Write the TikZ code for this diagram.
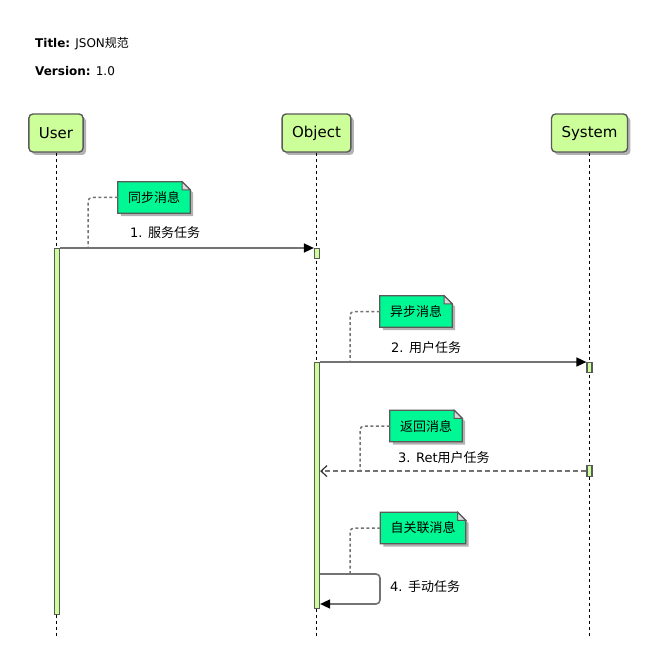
\documentclass[tikz,border=0pt]{standalone}
\usepackage{fontspec}
\setmainfont{DejaVu Sans}
\newfontfamily\cjk{Noto Sans CJK SC}
\usepackage{xcolor}
\usepackage{tikz}
\usetikzlibrary{arrows.meta}
\usetikzlibrary{backgrounds}
\usetikzlibrary{calc}
\usetikzlibrary{shadows}
\definecolor{partgreen}{HTML}{CCFF99}
\definecolor{notegreen}{HTML}{00F894}
\definecolor{edgegray}{HTML}{5A5A5A}
\definecolor{msggray}{HTML}{737373}

\begin{document}
\begin{tikzpicture}[x=1pt,y=-1pt]%%sequence
        \tikzstyle{participant} = [rectangle, rounded corners=4pt, draw=edgegray, line width=1.4pt, fill=partgreen, minimum height=38pt, inner xsep=10pt, font=\fontsize{15}{18}\selectfont, drop shadow={shadow xshift=3pt, shadow yshift=-3pt, fill=black!30, opacity=1}]
        \tikzstyle{lifeline} = [dash pattern=on 3.5pt off 2.5pt, line width=1pt]
        \tikzstyle{actbar} = [rectangle, draw=edgegray, fill=partgreen, line width=1.2pt, minimum width=5pt, inner sep=0pt, anchor=north]
        \tikzstyle{notebox} = [rectangle, minimum height=31pt, inner xsep=10pt, font=\fontsize{13}{15}\selectfont\cjk]
        \tikzstyle{msg} = [draw=msggray, line width=1.6pt, -{Triangle[length=10pt,width=9pt,color=black]}]
        \tikzstyle{retmsg} = [draw=msggray, line width=1.6pt, dash pattern=on 5pt off 3pt, -{Straight Barb[length=6pt,width=11pt,color=black!80,line width=1.2pt]}]
        \tikzstyle{noteline} = [draw=msggray, line width=1.5pt, dash pattern=on 3pt off 2.5pt, rounded corners=4pt]
        \tikzstyle{msglabel} = [anchor=west, inner sep=0pt, font=\fontsize{13}{15}\selectfont]
        \useasboundingbox (0,0) rectangle (660,668);

        \node [anchor=west, inner sep=0pt, font=\fontsize{12}{14}\selectfont](title) at (35,44) {\textbf{Title:} JSON{\cjk 规范}};
        \node [anchor=west, inner sep=0pt, font=\fontsize{12}{14}\selectfont](version) at (35,71) {\textbf{Version:} 1.0};

        \node [participant](user) at (56,133) {User};
        \node [participant](object) at (316.5,133) {Object};
        \node [participant](system) at (589.5,133) {System};
        \foreach \p in {user,object,system}
        {
                \draw [lifeline] (\p.south) -- ++(0,483);
        }

        \node [actbar, minimum height=366pt](ub) at (57,248) {};
        \node [actbar, minimum height=10pt](ob1) at (317,248) {};
        \node [actbar, minimum height=246pt](ob2) at (317,362) {};
        \node [actbar, minimum height=10pt](sb1) at (589.5,362) {};
        \node [actbar, minimum height=11pt](sb2) at (589.5,465) {};

        \draw [msg] (ub.north east) -- (ob1.north west);
        \draw [msg] (ob2.north east) -- (sb1.north west);
        \draw [retmsg] (sb2.west) -- (sb2.west -| ob2.east);
        \coordinate (selftop) at (380,574);
        \coordinate (selfbot) at (380,604);
        \draw [msg, rounded corners=4pt] (ob2.east |- selftop) -- (selftop) -- (selfbot) -- (ob2.east |- selfbot);

        \node [msglabel](l1) at (130,233) {1. {\cjk 服务任务}};
        \node [msglabel](l2) at (391,348) {2. {\cjk 用户任务}};
        \node [msglabel](l3) at (398,458) {3. Ret{\cjk 用户任务}};
        \node [msglabel](l4) at (390,587) {4. {\cjk 手动任务}};

        \node [notebox](n1) at (154,197.5) {同步消息};
        \node [notebox](n2) at (416,311.5) {异步消息};
        \node [notebox](n3) at (426,426) {返回消息};
        \node [notebox](n4) at (423,528) {自关联消息};
        \begin{scope}[on background layer]
                \foreach \n in {n1,n2,n3,n4}
                {
                        \fill [black!30] ($(\n.north west)+(3,3)$) -- ($(\n.north east)+(-5,3)$) -- ($(\n.north east)+(3,11)$) -- ($(\n.south east)+(3,3)$) -- ($(\n.south west)+(3,3)$) -- cycle;
                        \draw [edgegray, fill=notegreen, line width=1.2pt] (\n.north west) -- ($(\n.north east)+(-8,0)$) -- ($(\n.north east)+(0,8)$) -- (\n.south east) -- (\n.south west) -- cycle;
                        \draw [edgegray, fill=black!15, line width=1pt] ($(\n.north east)+(-8,0)$) -- ($(\n.north east)+(-8,8)$) -- ($(\n.north east)+(0,8)$) -- cycle;
                }
        \end{scope}

        \coordinate (c1) at (88,248);
        \coordinate (c2) at (350,362);
        \coordinate (c3) at (360,470.5);
        \coordinate (c4) at (350,574);
        \draw [noteline] (n1.west) -| (c1);
        \draw [noteline] (n2.west) -| (c2);
        \draw [noteline] (n3.west) -| (c3);
        \draw [noteline] (n4.west) -| (c4);
\end{tikzpicture}
\end{document}
